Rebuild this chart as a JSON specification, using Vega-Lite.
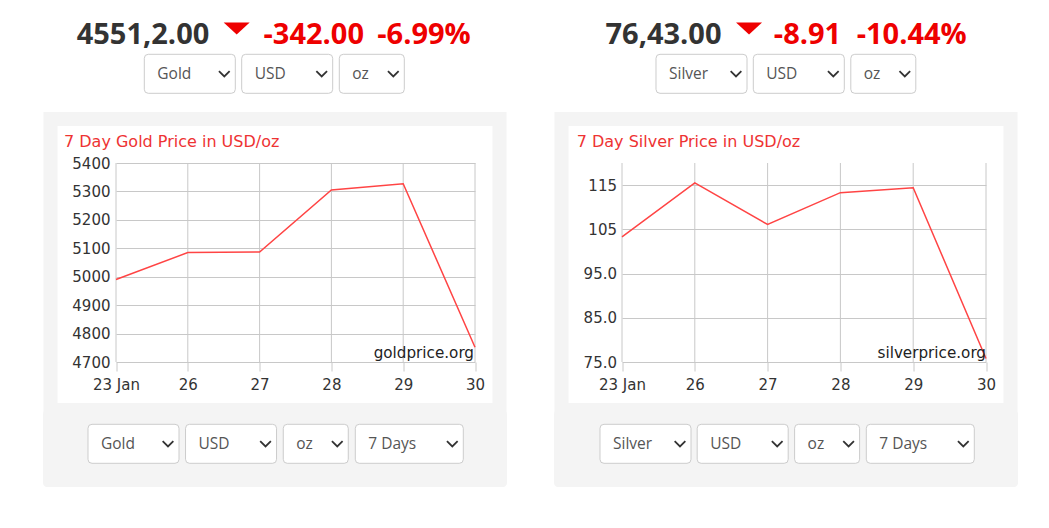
{
  "$schema": "https://vega.github.io/schema/vega-lite/v6.json",
  "background": "white",
  "padding": {"left": 43, "top": 0, "right": 0, "bottom": 0},
  "datasets": {
    "gold": [
      {"day": "23 Jan", "price": 4990},
      {"day": "26", "price": 5085},
      {"day": "27", "price": 5087},
      {"day": "28", "price": 5305},
      {"day": "29", "price": 5327},
      {"day": "30", "price": 4752}
    ],
    "silver": [
      {"day": "23 Jan", "price": 103.3},
      {"day": "26", "price": 115.5},
      {"day": "27", "price": 106.1},
      {"day": "28", "price": 113.3},
      {"day": "29", "price": 114.4},
      {"day": "30", "price": 75.8}
    ],
    "goldHead": [
      {"part": "value", "text": "4551,2.00"},
      {"part": "arrow", "text": "▼"},
      {"part": "change", "text": "-342.00"},
      {"part": "percent", "text": "-6.99%"}
    ],
    "silverHead": [
      {"part": "value", "text": "76,43.00"},
      {"part": "arrow", "text": "▼"},
      {"part": "change", "text": "-8.91"},
      {"part": "percent", "text": "-10.44%"}
    ],
    "goldMenuTop": [{"item": "Gold"}, {"item": "USD"}, {"item": "oz"}],
    "goldMenuBottom": [{"item": "Gold"}, {"item": "USD"}, {"item": "oz"}, {"item": "7 Days"}],
    "silverMenuTop": [{"item": "Silver"}, {"item": "USD"}, {"item": "oz"}],
    "silverMenuBottom": [{"item": "Silver"}, {"item": "USD"}, {"item": "oz"}, {"item": "7 Days"}]
  },
  "hconcat": [
    {
      "vconcat": [
        {
          "width": 464,
          "height": 55,
          "data": {"name": "goldHead"},
          "view": {"fill": "white", "stroke": null},
          "encoding": {
            "x": {"field": "part", "type": "nominal", "axis": null,
              "scale": {"type": "point", "domain": ["value", "arrow", "change", "percent"], "range": [100, 381], "padding": 0}}
          },
          "layer": [
            {
              "transform": [{"filter": "datum.part == 'value' || datum.part == 'percent'"}],
              "mark": {"type": "text", "font": "Open Sans", "fontSize": 29, "fontWeight": "bold", "baseline": "alphabetic", "dy": 16},
              "encoding": {
                "text": {"field": "text"},
                "color": {"field": "part", "type": "nominal", "legend": null,
                  "scale": {"domain": ["value", "percent"], "range": ["#333333", "#ee0000"]}}
              }
            },
            {
              "transform": [{"filter": "datum.part == 'change'"}],
              "mark": {"type": "text", "font": "Open Sans", "fontSize": 29, "fontWeight": "bold", "baseline": "alphabetic", "dy": 16, "dx": -16.6, "color": "#ee0000"},
              "encoding": {"text": {"field": "text"}}
            },
            {
              "transform": [{"filter": "datum.part == 'arrow'"}],
              "mark": {"type": "point", "shape": "M-1,-0.46L1,-0.46L0,0.46Z", "size": 676, "filled": true, "color": "#ee0000", "opacity": 1, "yOffset": 1}
            }
          ]
        },
        {
          "width": 464,
          "height": 64,
          "data": {"name": "goldMenuTop"},
          "view": {"fill": "white", "stroke": null},
          "encoding": {
            "x": {"field": "item", "type": "nominal", "axis": null,
              "scale": {"type": "point", "domain": ["Gold", "USD", "oz"], "range": [146.8, 328.8], "padding": 0}}
          },
          "layer": [
            {
              "mark": {"type": "point", "filled": true, "fill": "#ffffff", "stroke": "#cccccc", "strokeWidth": 1, "opacity": 1, "size": 12100, "yOffset": -13.2,
                "xOffset": {"expr": "datum.item == 'USD' ? 6.4 : 0"}},
              "encoding": {
                "shape": {"field": "item", "type": "nominal", "legend": null,
                  "scale": {"domain": ["Gold", "Silver", "USD", "oz", "7 Days"], "range": [
                    "M-0.7546,-0.3545L0.7546,-0.3545Q0.8273,-0.3545 0.8273,-0.2818L0.8273,0.2818Q0.8273,0.3545 0.7546,0.3545L-0.7546,0.3545Q-0.8273,0.3545 -0.8273,0.2818L-0.8273,-0.2818Q-0.8273,-0.3545 -0.7546,-0.3545Z",
                    "M-0.7546,-0.3545L0.7546,-0.3545Q0.8273,-0.3545 0.8273,-0.2818L0.8273,0.2818Q0.8273,0.3545 0.7546,0.3545L-0.7546,0.3545Q-0.8273,0.3545 -0.8273,0.2818L-0.8273,-0.2818Q-0.8273,-0.3545 -0.7546,-0.3545Z",
                    "M-0.7546,-0.3545L0.7546,-0.3545Q0.8273,-0.3545 0.8273,-0.2818L0.8273,0.2818Q0.8273,0.3545 0.7546,0.3545L-0.7546,0.3545Q-0.8273,0.3545 -0.8273,0.2818L-0.8273,-0.2818Q-0.8273,-0.3545 -0.7546,-0.3545Z",
                    "M-0.5182,-0.3545L0.5182,-0.3545Q0.5909,-0.3545 0.5909,-0.2818L0.5909,0.2818Q0.5909,0.3545 0.5182,0.3545L-0.5182,0.3545Q-0.5909,0.3545 -0.5909,0.2818L-0.5909,-0.2818Q-0.5909,-0.3545 -0.5182,-0.3545Z",
                    "M-0.9091,-0.3545L0.9091,-0.3545Q0.9818,-0.3545 0.9818,-0.2818L0.9818,0.2818Q0.9818,0.3545 0.9091,0.3545L-0.9091,0.3545Q-0.9818,0.3545 -0.9818,0.2818L-0.9818,-0.2818Q-0.9818,-0.3545 -0.9091,-0.3545Z"
                  ]}}
              }
            },
            {
              "mark": {"type": "text", "align": "left", "baseline": "middle", "dy": -13.2, "font": "Open Sans", "fontSize": 15.5, "color": "#555555",
                "dx": {"expr": "datum.item == 'oz' ? -19.5 : datum.item == 'USD' ? -26.1 : -32.5"}},
              "encoding": {"text": {"field": "item"}}
            },
            {
              "mark": {"type": "point", "shape": "M-1,-0.5L0,0.5L1,-0.5", "size": 114, "filled": false, "stroke": "#333333", "strokeWidth": 1.8, "opacity": 1, "yOffset": -13.2,
                "xOffset": {"expr": "datum.item == 'oz' ? 21.5 : datum.item == 'USD' ? 40.9 : 34.5"}}
            }
          ]
        },
        {
          "width": 449,
          "height": 291,
          "data": {"name": "gold"},
          "view": {"fill": "white", "stroke": "#f4f4f4", "strokeWidth": 14},
          "encoding": {
            "x": {"field": "day", "type": "nominal", "sort": null,
              "scale": {"type": "point", "domain": ["23 Jan", "26", "27", "28", "29", "30"], "range": [65.5, 424.5], "padding": 0},
              "axis": {"orient": "bottom", "offset": -48, "grid": false, "domain": false, "tickSize": 9, "tickColor": "#c8c8c8",
                "labelPadding": 6, "labelFont": "DejaVu Sans", "labelFontSize": 15, "labelColor": "#333333", "labelAngle": 0, "title": null}}
          },
          "layer": [
            {
              "mark": {"type": "rule", "color": "#c8c8c8", "strokeWidth": 1},
              "encoding": {
                "y": {"datum": 5400, "type": "quantitative"},
                "y2": {"datum": 4700}
              }
            },
            {
              "mark": {"type": "line", "color": "#ff4444", "strokeWidth": 1.5},
              "encoding": {
                "y": {"field": "price", "type": "quantitative",
                  "scale": {"domain": [4700, 5400], "range": [243, 44], "nice": false, "zero": false},
                  "axis": {"orient": "left", "offset": -65.5, "values": [4700, 4800, 4900, 5000, 5100, 5200, 5300, 5400], "format": "d",
                    "grid": true, "gridColor": "#c8c8c8", "domain": false, "ticks": false, "labelPadding": 6,
                    "labelFont": "DejaVu Sans", "labelFontSize": 15, "labelColor": "#333333", "title": null}}
              }
            },
            {
              "data": {"values": [{}]},
              "mark": {"type": "text", "text": "7 Day Gold Price in USD/oz", "align": "left", "baseline": "alphabetic", "dx": -52, "dy": -16,
                "font": "DejaVu Sans", "fontSize": 16, "color": "#ee3333"},
              "encoding": {"x": {"datum": "23 Jan"}, "y": {"datum": 5400, "type": "quantitative"}}
            },
            {
              "data": {"values": [{}]},
              "mark": {"type": "text", "text": "goldprice.org", "align": "right", "baseline": "alphabetic", "dx": -1, "dy": -4,
                "font": "DejaVu Sans", "fontSize": 15.2, "color": "#222222"},
              "encoding": {"x": {"datum": "30"}, "y": {"datum": 4700, "type": "quantitative"}}
            }
          ]
        },
        {
          "width": 464,
          "height": 77,
          "data": {"name": "goldMenuBottom"},
          "view": {"fill": "#f4f4f4", "stroke": null, "cornerRadius": 4},
          "encoding": {
            "x": {"field": "item", "type": "nominal", "axis": null,
              "scale": {"type": "point", "domain": ["Gold", "USD", "oz", "7 Days"], "range": [90.5, 366.3], "padding": 0}}
          },
          "layer": [
            {
              "mark": {"type": "point", "filled": true, "fill": "#ffffff", "stroke": "#cccccc", "strokeWidth": 1, "opacity": 1, "size": 12100, "yOffset": -4.7,
                "xOffset": {"expr": "datum.item == 'USD' ? 5.6 : datum.item == 'oz' ? -1.6 : 0"}},
              "encoding": {
                "shape": {"field": "item", "type": "nominal", "legend": null,
                  "scale": {"domain": ["Gold", "Silver", "USD", "oz", "7 Days"], "range": [
                    "M-0.7546,-0.3545L0.7546,-0.3545Q0.8273,-0.3545 0.8273,-0.2818L0.8273,0.2818Q0.8273,0.3545 0.7546,0.3545L-0.7546,0.3545Q-0.8273,0.3545 -0.8273,0.2818L-0.8273,-0.2818Q-0.8273,-0.3545 -0.7546,-0.3545Z",
                    "M-0.7546,-0.3545L0.7546,-0.3545Q0.8273,-0.3545 0.8273,-0.2818L0.8273,0.2818Q0.8273,0.3545 0.7546,0.3545L-0.7546,0.3545Q-0.8273,0.3545 -0.8273,0.2818L-0.8273,-0.2818Q-0.8273,-0.3545 -0.7546,-0.3545Z",
                    "M-0.7546,-0.3545L0.7546,-0.3545Q0.8273,-0.3545 0.8273,-0.2818L0.8273,0.2818Q0.8273,0.3545 0.7546,0.3545L-0.7546,0.3545Q-0.8273,0.3545 -0.8273,0.2818L-0.8273,-0.2818Q-0.8273,-0.3545 -0.7546,-0.3545Z",
                    "M-0.5182,-0.3545L0.5182,-0.3545Q0.5909,-0.3545 0.5909,-0.2818L0.5909,0.2818Q0.5909,0.3545 0.5182,0.3545L-0.5182,0.3545Q-0.5909,0.3545 -0.5909,0.2818L-0.5909,-0.2818Q-0.5909,-0.3545 -0.5182,-0.3545Z",
                    "M-0.9091,-0.3545L0.9091,-0.3545Q0.9818,-0.3545 0.9818,-0.2818L0.9818,0.2818Q0.9818,0.3545 0.9091,0.3545L-0.9091,0.3545Q-0.9818,0.3545 -0.9818,0.2818L-0.9818,-0.2818Q-0.9818,-0.3545 -0.9091,-0.3545Z"
                  ]}}
              }
            },
            {
              "mark": {"type": "text", "align": "left", "baseline": "middle", "dy": -4.7, "font": "Open Sans", "fontSize": 15.5, "color": "#555555",
                "dx": {"expr": "datum.item == '7 Days' ? -41 : datum.item == 'oz' ? -21.1 : datum.item == 'USD' ? -26.9 : -32.5"}},
              "encoding": {"text": {"field": "item"}}
            },
            {
              "mark": {"type": "point", "shape": "M-1,-0.5L0,0.5L1,-0.5", "size": 114, "filled": false, "stroke": "#333333", "strokeWidth": 1.8, "opacity": 1, "yOffset": -4.7,
                "xOffset": {"expr": "datum.item == '7 Days' ? 43 : datum.item == 'oz' ? 19.9 : datum.item == 'USD' ? 40.1 : 34.5"}}
            }
          ]
        }
      ],
      "spacing": 0,
      "bounds": "flush",
      "center": true
    },
    {
      "vconcat": [
        {
          "width": 464,
          "height": 55,
          "data": {"name": "silverHead"},
          "view": {"fill": "white", "stroke": null},
          "encoding": {
            "x": {"field": "part", "type": "nominal", "axis": null,
              "scale": {"type": "point", "domain": ["value", "arrow", "change", "percent"], "range": [109.5, 357.7], "padding": 0}}
          },
          "layer": [
            {
              "transform": [{"filter": "datum.part == 'value' || datum.part == 'percent'"}],
              "mark": {"type": "text", "font": "Open Sans", "fontSize": 29, "fontWeight": "bold", "baseline": "alphabetic", "dy": 16},
              "encoding": {
                "text": {"field": "text"},
                "color": {"field": "part", "type": "nominal", "legend": null,
                  "scale": {"domain": ["value", "percent"], "range": ["#333333", "#ee0000"]}}
              }
            },
            {
              "transform": [{"filter": "datum.part == 'change'"}],
              "mark": {"type": "text", "font": "Open Sans", "fontSize": 29, "fontWeight": "bold", "baseline": "alphabetic", "dy": 16, "dx": -21.5, "color": "#ee0000"},
              "encoding": {"text": {"field": "text"}}
            },
            {
              "transform": [{"filter": "datum.part == 'arrow'"}],
              "mark": {"type": "point", "shape": "M-1,-0.46L1,-0.46L0,0.46Z", "size": 676, "filled": true, "color": "#ee0000", "opacity": 1, "yOffset": 1, "xOffset": 2.8}
            }
          ]
        },
        {
          "width": 464,
          "height": 64,
          "data": {"name": "silverMenuTop"},
          "view": {"fill": "white", "stroke": null},
          "encoding": {
            "x": {"field": "item", "type": "nominal", "axis": null,
              "scale": {"type": "point", "domain": ["Silver", "USD", "oz"], "range": [147.5, 329.3], "padding": 0}}
          },
          "layer": [
            {
              "mark": {"type": "point", "filled": true, "fill": "#ffffff", "stroke": "#cccccc", "strokeWidth": 1, "opacity": 1, "size": 12100, "yOffset": -13.2,
                "xOffset": {"expr": "datum.item == 'USD' ? 6.4 : 0"}},
              "encoding": {
                "shape": {"field": "item", "type": "nominal", "legend": null,
                  "scale": {"domain": ["Gold", "Silver", "USD", "oz", "7 Days"], "range": [
                    "M-0.7546,-0.3545L0.7546,-0.3545Q0.8273,-0.3545 0.8273,-0.2818L0.8273,0.2818Q0.8273,0.3545 0.7546,0.3545L-0.7546,0.3545Q-0.8273,0.3545 -0.8273,0.2818L-0.8273,-0.2818Q-0.8273,-0.3545 -0.7546,-0.3545Z",
                    "M-0.7546,-0.3545L0.7546,-0.3545Q0.8273,-0.3545 0.8273,-0.2818L0.8273,0.2818Q0.8273,0.3545 0.7546,0.3545L-0.7546,0.3545Q-0.8273,0.3545 -0.8273,0.2818L-0.8273,-0.2818Q-0.8273,-0.3545 -0.7546,-0.3545Z",
                    "M-0.7546,-0.3545L0.7546,-0.3545Q0.8273,-0.3545 0.8273,-0.2818L0.8273,0.2818Q0.8273,0.3545 0.7546,0.3545L-0.7546,0.3545Q-0.8273,0.3545 -0.8273,0.2818L-0.8273,-0.2818Q-0.8273,-0.3545 -0.7546,-0.3545Z",
                    "M-0.5182,-0.3545L0.5182,-0.3545Q0.5909,-0.3545 0.5909,-0.2818L0.5909,0.2818Q0.5909,0.3545 0.5182,0.3545L-0.5182,0.3545Q-0.5909,0.3545 -0.5909,0.2818L-0.5909,-0.2818Q-0.5909,-0.3545 -0.5182,-0.3545Z",
                    "M-0.9091,-0.3545L0.9091,-0.3545Q0.9818,-0.3545 0.9818,-0.2818L0.9818,0.2818Q0.9818,0.3545 0.9091,0.3545L-0.9091,0.3545Q-0.9818,0.3545 -0.9818,0.2818L-0.9818,-0.2818Q-0.9818,-0.3545 -0.9091,-0.3545Z"
                  ]}}
              }
            },
            {
              "mark": {"type": "text", "align": "left", "baseline": "middle", "dy": -13.2, "font": "Open Sans", "fontSize": 15.5, "color": "#555555",
                "dx": {"expr": "datum.item == 'oz' ? -19.5 : datum.item == 'USD' ? -26.1 : -32.5"}},
              "encoding": {"text": {"field": "item"}}
            },
            {
              "mark": {"type": "point", "shape": "M-1,-0.5L0,0.5L1,-0.5", "size": 114, "filled": false, "stroke": "#333333", "strokeWidth": 1.8, "opacity": 1, "yOffset": -13.2,
                "xOffset": {"expr": "datum.item == 'oz' ? 21.5 : datum.item == 'USD' ? 40.9 : 34.5"}}
            }
          ]
        },
        {
          "width": 449,
          "height": 291,
          "data": {"name": "silver"},
          "view": {"fill": "white", "stroke": "#f4f4f4", "strokeWidth": 14},
          "encoding": {
            "x": {"field": "day", "type": "nominal", "sort": null,
              "scale": {"type": "point", "domain": ["23 Jan", "26", "27", "28", "29", "30"], "range": [60.5, 424.5], "padding": 0},
              "axis": {"orient": "bottom", "offset": -48, "grid": false, "domain": false, "tickSize": 9, "tickColor": "#c8c8c8",
                "labelPadding": 6, "labelFont": "DejaVu Sans", "labelFontSize": 15, "labelColor": "#333333", "labelAngle": 0, "title": null}}
          },
          "layer": [
            {
              "mark": {"type": "rule", "color": "#c8c8c8", "strokeWidth": 1},
              "encoding": {
                "y": {"datum": 120, "type": "quantitative"},
                "y2": {"datum": 75}
              }
            },
            {
              "mark": {"type": "line", "color": "#ff4444", "strokeWidth": 1.5},
              "encoding": {
                "y": {"field": "price", "type": "quantitative",
                  "scale": {"domain": [75, 120], "range": [243, 44], "nice": false, "zero": false},
                  "axis": {"orient": "left", "offset": -60.5, "values": [75, 85, 95, 105, 115], "format": ".3r",
                    "grid": true, "gridColor": "#c8c8c8", "domain": false, "ticks": false, "labelPadding": 5.5,
                    "labelFont": "DejaVu Sans", "labelFontSize": 15, "labelColor": "#333333", "title": null}}
              }
            },
            {
              "data": {"values": [{}]},
              "mark": {"type": "text", "text": "7 Day Silver Price in USD/oz", "align": "left", "baseline": "alphabetic", "dx": -45.3, "dy": -16,
                "font": "DejaVu Sans", "fontSize": 16, "color": "#ee3333"},
              "encoding": {"x": {"datum": "23 Jan"}, "y": {"datum": 120, "type": "quantitative"}}
            },
            {
              "data": {"values": [{}]},
              "mark": {"type": "text", "text": "silverprice.org", "align": "right", "baseline": "alphabetic", "dx": 0, "dy": -4,
                "font": "DejaVu Sans", "fontSize": 15.2, "color": "#222222"},
              "encoding": {"x": {"datum": "30"}, "y": {"datum": 75, "type": "quantitative"}}
            }
          ]
        },
        {
          "width": 464,
          "height": 77,
          "data": {"name": "silverMenuBottom"},
          "view": {"fill": "#f4f4f4", "stroke": null, "cornerRadius": 4},
          "encoding": {
            "x": {"field": "item", "type": "nominal", "axis": null,
              "scale": {"type": "point", "domain": ["Silver", "USD", "oz", "7 Days"], "range": [91.5, 366.3], "padding": 0}}
          },
          "layer": [
            {
              "mark": {"type": "point", "filled": true, "fill": "#ffffff", "stroke": "#cccccc", "strokeWidth": 1, "opacity": 1, "size": 12100, "yOffset": -4.7,
                "xOffset": {"expr": "datum.item == 'USD' ? 5.6 : datum.item == 'oz' ? -1.6 : 0"}},
              "encoding": {
                "shape": {"field": "item", "type": "nominal", "legend": null,
                  "scale": {"domain": ["Gold", "Silver", "USD", "oz", "7 Days"], "range": [
                    "M-0.7546,-0.3545L0.7546,-0.3545Q0.8273,-0.3545 0.8273,-0.2818L0.8273,0.2818Q0.8273,0.3545 0.7546,0.3545L-0.7546,0.3545Q-0.8273,0.3545 -0.8273,0.2818L-0.8273,-0.2818Q-0.8273,-0.3545 -0.7546,-0.3545Z",
                    "M-0.7546,-0.3545L0.7546,-0.3545Q0.8273,-0.3545 0.8273,-0.2818L0.8273,0.2818Q0.8273,0.3545 0.7546,0.3545L-0.7546,0.3545Q-0.8273,0.3545 -0.8273,0.2818L-0.8273,-0.2818Q-0.8273,-0.3545 -0.7546,-0.3545Z",
                    "M-0.7546,-0.3545L0.7546,-0.3545Q0.8273,-0.3545 0.8273,-0.2818L0.8273,0.2818Q0.8273,0.3545 0.7546,0.3545L-0.7546,0.3545Q-0.8273,0.3545 -0.8273,0.2818L-0.8273,-0.2818Q-0.8273,-0.3545 -0.7546,-0.3545Z",
                    "M-0.5182,-0.3545L0.5182,-0.3545Q0.5909,-0.3545 0.5909,-0.2818L0.5909,0.2818Q0.5909,0.3545 0.5182,0.3545L-0.5182,0.3545Q-0.5909,0.3545 -0.5909,0.2818L-0.5909,-0.2818Q-0.5909,-0.3545 -0.5182,-0.3545Z",
                    "M-0.9091,-0.3545L0.9091,-0.3545Q0.9818,-0.3545 0.9818,-0.2818L0.9818,0.2818Q0.9818,0.3545 0.9091,0.3545L-0.9091,0.3545Q-0.9818,0.3545 -0.9818,0.2818L-0.9818,-0.2818Q-0.9818,-0.3545 -0.9091,-0.3545Z"
                  ]}}
              }
            },
            {
              "mark": {"type": "text", "align": "left", "baseline": "middle", "dy": -4.7, "font": "Open Sans", "fontSize": 15.5, "color": "#555555",
                "dx": {"expr": "datum.item == '7 Days' ? -41 : datum.item == 'oz' ? -21.1 : datum.item == 'USD' ? -26.9 : -32.5"}},
              "encoding": {"text": {"field": "item"}}
            },
            {
              "mark": {"type": "point", "shape": "M-1,-0.5L0,0.5L1,-0.5", "size": 114, "filled": false, "stroke": "#333333", "strokeWidth": 1.8, "opacity": 1, "yOffset": -4.7,
                "xOffset": {"expr": "datum.item == '7 Days' ? 43 : datum.item == 'oz' ? 19.9 : datum.item == 'USD' ? 40.1 : 34.5"}}
            }
          ]
        }
      ],
      "spacing": 0,
      "bounds": "flush",
      "center": true
    }
  ],
  "spacing": 47,
  "config": {
    "view": {"stroke": null},
    "font": "DejaVu Sans"
  }
}
